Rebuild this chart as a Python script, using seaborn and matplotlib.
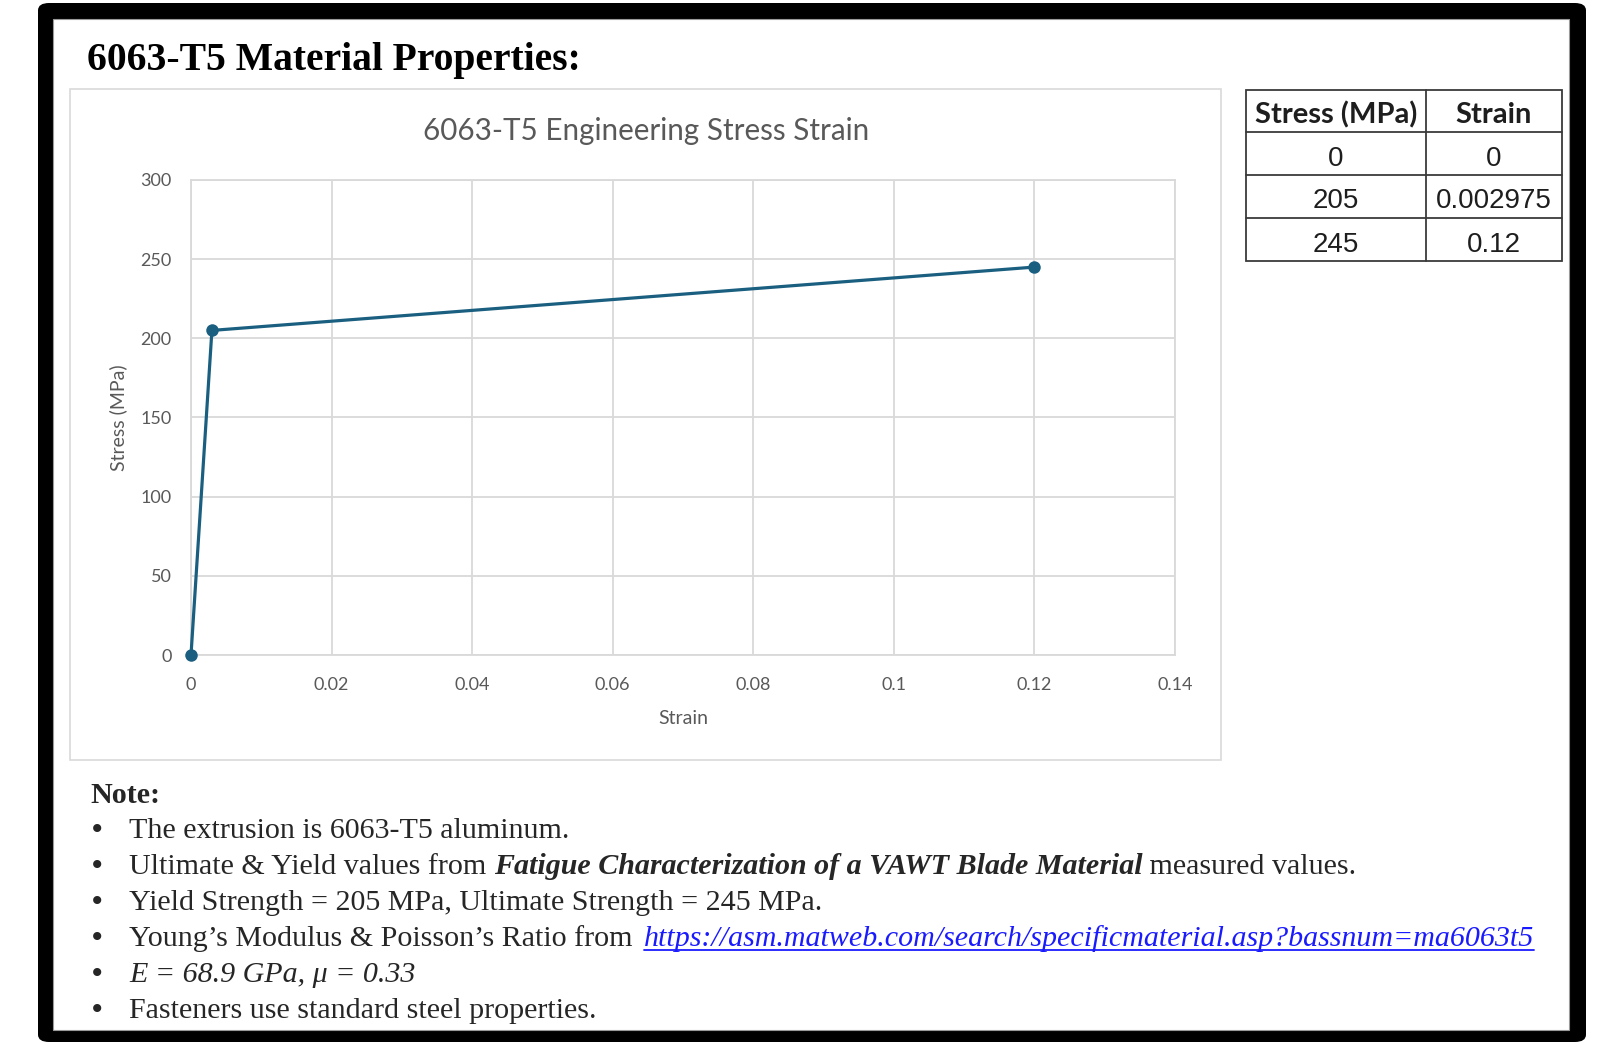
import matplotlib
matplotlib.use("Agg")
import matplotlib.pyplot as plt
import pandas as pd
import seaborn as sns
from matplotlib.patches import Rectangle, FancyBboxPatch
from matplotlib.lines import Line2D

# ---- data -------------------------------------------------------------
strain = [0, 0.002975, 0.12]
stress = [0, 205, 245]

x_ticks = [0, 0.02, 0.04, 0.06, 0.08, 0.10, 0.12, 0.14]
x_tick_labels = ["0", "0.02", "0.04", "0.06", "0.08", "0.1", "0.12", "0.14"]
y_ticks = [0, 50, 100, 150, 200, 250, 300]

table_header = ["Stress (MPa)", "Strain"]

page_title = "6063-T5 Material Properties:"
chart_title = "6063-T5 Engineering Stress Strain"
x_label = "Strain"
y_label = "Stress (MPa)"

note_head = "Note:"
note_line1 = "The extrusion is 6063-T5 aluminum."
note_line2 = ["Ultimate & Yield values from ",
              "Fatigue Characterization of a VAWT Blade Material",
              " measured values."]
note_line3 = "Yield Strength = 205 MPa, Ultimate Strength = 245 MPa."
note_line4 = ["Young\u2019s Modulus & Poisson\u2019s Ratio from ",
              "https://asm.matweb.com/search/specificmaterial.asp?bassnum=ma6063t5"]
note_line5 = "E = 68.9 GPa, \u03bc = 0.33"
note_line6 = "Fasteners use standard steel properties."

# ---- style ------------------------------------------------------------
sns.set_theme(style="whitegrid")
plt.rcParams["font.family"] = ["Lato", "DejaVu Sans"]

W, H = 1605, 1043
LINE = "#1a5f80"
GRID = "#d9d9d9"
TXT = "#595959"
SERIF = ["Liberation Serif", "DejaVu Serif"]


def fx(x):
    return x / W


def fy(y):
    return 1 - y / H


fig = plt.figure(figsize=(W / 100, H / 100), dpi=100)
fig.patch.set_facecolor("white")

# page frame: black rounded border with white sheet inside
fig.add_artist(FancyBboxPatch((fx(38), fy(1042)), fx(1586) - fx(38), fy(3) - fy(1042),
                              boxstyle="round,pad=0,rounding_size=0.007",
                              transform=fig.transFigure, facecolor="black",
                              edgecolor="none", zorder=-3))
fig.add_artist(Rectangle((fx(53), fy(1030)), fx(1569) - fx(53), fy(19) - fy(1030),
                         transform=fig.transFigure, facecolor="white",
                         edgecolor="#9a9a9a", lw=0.8, zorder=-2))
# chart area border
fig.add_artist(Rectangle((fx(70), fy(760)), fx(1221) - fx(70), fy(89) - fy(760),
                         transform=fig.transFigure, facecolor="white",
                         edgecolor=GRID, lw=1.2, zorder=-1))

fig.text(fx(87), fy(70), page_title, family=SERIF, fontweight="bold",
         fontsize=28.5, color="black", va="baseline", ha="left")

# ---- chart ------------------------------------------------------------
ax = fig.add_axes([fx(191), fy(655), (1175 - 191) / W, (655 - 180) / H])
df = pd.DataFrame({"Strain": strain, "Stress": stress})
sns.lineplot(data=df, x="Strain", y="Stress", sort=False, ax=ax, color=LINE,
             linewidth=2.3, marker="o", markersize=9, markeredgewidth=0,
             clip_on=False, zorder=5)

ax.set_xlim(0, 0.14)
ax.set_ylim(0, 300)
ax.set_xticks(x_ticks, labels=x_tick_labels)
ax.set_yticks(y_ticks)
ax.set_facecolor("white")
ax.grid(True, color=GRID, linewidth=1.3)
for sp in ax.spines.values():
    sp.set_color(GRID)
    sp.set_linewidth(1.3)
ax.tick_params(length=0, labelsize=13, labelcolor=TXT)
ax.tick_params(axis="y", pad=14)
ax.tick_params(axis="x", pad=16)
ax.set_xlabel(x_label, fontsize=14, color=TXT, va="center")
ax.set_ylabel(y_label, fontsize=14, color=TXT, va="center")
ax.xaxis.set_label_coords(0.5, -(719 - 655) / 475)
ax.yaxis.set_label_coords(-(191 - 118) / 984, 0.5)

fig.text(fx(646), fy(131), chart_title, fontsize=21.3, color=TXT,
         ha="center", va="center")

# ---- data table -------------------------------------------------------
col_x = [1246, 1426, 1562]
row_y = [90, 132, 175, 218, 261]
fig.add_artist(Rectangle((fx(col_x[0]), fy(row_y[-1])), fx(col_x[-1]) - fx(col_x[0]),
                         fy(row_y[0]) - fy(row_y[-1]), transform=fig.transFigure,
                         facecolor="white", edgecolor="#3a3a3a", lw=1.3, zorder=2))
for yy in row_y[1:-1]:
    fig.add_artist(Line2D([fx(col_x[0]), fx(col_x[-1])], [fy(yy), fy(yy)],
                          color="#3a3a3a", lw=1.3, zorder=3))
fig.add_artist(Line2D([fx(col_x[1]), fx(col_x[1])], [fy(row_y[0]), fy(row_y[-1])],
                      color="#3a3a3a", lw=1.3, zorder=3))
for j, head in enumerate(table_header):
    cx = (col_x[j] + col_x[j + 1]) / 2
    cy = (row_y[0] + row_y[1]) / 2 + 4
    fig.text(fx(cx), fy(cy), head, fontsize=21, fontweight="bold",
             color="#1e1e1e", ha="center", va="center")
for i, (s, e) in enumerate(zip(stress, strain)):
    cy = (row_y[i + 1] + row_y[i + 2]) / 2 + 5
    for j, val in enumerate([f"{s:g}", f"{e:g}"]):
        cx = (col_x[j] + col_x[j + 1]) / 2
        fig.text(fx(cx), fy(cy), val, fontsize=20, family=["Liberation Sans"],
                 color="#1e1e1e", ha="center", va="center")

# ---- notes ------------------------------------------------------------
NOTE_SIZE = 21.6
fig.text(fx(90), fy(803), note_head, family=SERIF, fontweight="bold",
         fontsize=NOTE_SIZE, va="baseline")

renderer = fig.canvas.get_renderer()
TX = 129
baselines = [838, 874, 910, 946, 982, 1018]


def put(x, y, s, **kw):
    t = fig.text(fx(x), fy(y), s, family=SERIF, fontsize=NOTE_SIZE,
                 va="baseline", ha="left", **kw)
    bb = t.get_window_extent(renderer=renderer)
    return t, bb.x1


for yb in baselines:
    fig.text(fx(92), fy(yb), "\u2022", family=SERIF, fontsize=NOTE_SIZE * 1.0,
             fontweight="bold", va="baseline", ha="left")

put(TX, baselines[0], note_line1)
_, x_end = put(TX, baselines[1], note_line2[0])
_, x_end = put(x_end, baselines[1], note_line2[1], fontweight="bold", style="italic")
put(x_end, baselines[1], note_line2[2])
put(TX, baselines[2], note_line3)
_, x_end = put(TX, baselines[3], note_line4[0])
x_start = x_end + 4
_, x_end = put(x_start, baselines[3], note_line4[1], style="italic", color="#1a1aff")
fig.add_artist(Line2D([fx(x_start), fx(x_end)], [fy(baselines[3] + 4)] * 2,
                      color="#1a1aff", lw=1.3))
put(TX, baselines[4], note_line5, style="italic")
put(TX, baselines[5], note_line6)

fig.savefig("out.png", dpi=100, facecolor="white")
